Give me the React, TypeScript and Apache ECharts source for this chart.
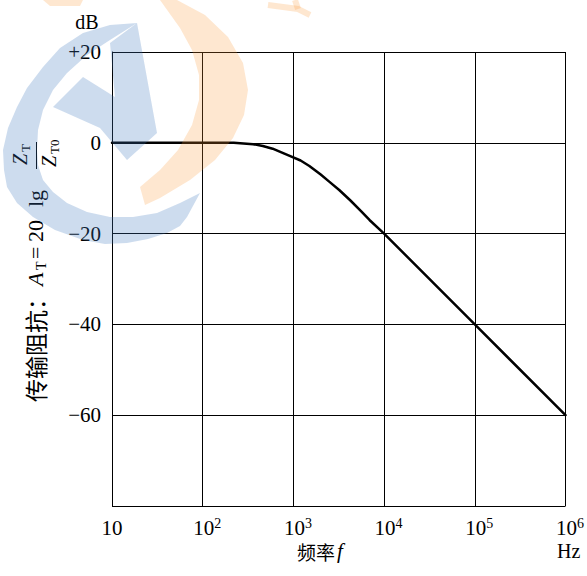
import React, { useEffect, useRef } from "react";
import * as echarts from "echarts";

const freqs = [10, 100, 220, 360, 460, 590, 910, 1200, 1500, 2000, 2500, 3200, 4200, 5600, 6900, 10000, 100000, 1000000];
const gainDb = [0, 0, 0, -0.3, -0.7, -1.3, -2.9, -3.9, -5.1, -7.0, -8.6, -10.4, -12.6, -15.1, -17, -20, -40, -60];
const yTicks = [20, 0, -20, -40, -60];
const yLabelText = ["+20", "0", "\u221220", "\u221240", "\u221260"];

const SERIF = '"Liberation Serif", "DejaVu Serif", serif';
const CJK = '"Noto Sans CJK SC", sans-serif';

function txt(text: string, x: number, y: number, font: string, align = "left", extra: any = {}) {
  return {
    type: "text",
    x,
    y,
    silent: true,
    style: { text, font, fill: "#000", textAlign: align, textVerticalAlign: "middle", align, verticalAlign: "middle", ...extra },
  };
}

const blueCrescent = [
  [137, 23], [110, 25], [83, 33], [60, 48], [43, 67], [27, 88], [17, 107], [8, 128], [3, 150], [4, 170], [7, 187],
  [17, 203], [33, 217], [55, 230], [83, 240], [105, 244], [127, 243], [148, 239], [167, 233], [180, 226], [187, 217], [200, 193],
  [180, 203], [157, 213], [133, 217], [110, 217], [87, 212], [67, 203], [53, 192], [43, 180], [38, 165], [37, 150],
  [38, 130], [43, 110], [53, 90], [67, 73], [87, 55], [110, 40],
];
const blueY = [[53, 107], [83, 77], [115, 97], [110, 43], [137, 23], [157, 133], [127, 160], [100, 128]];
const orangeArc = [
  [177, 0], [205, 15], [228, 37], [243, 63], [248, 90], [244, 115], [233, 138], [215, 160], [190, 180], [160, 198], [145, 205],
  [140, 187], [160, 170], [178, 150], [192, 125], [199, 100], [199, 75], [192, 50], [180, 28], [160, 0],
];

export default function App() {
  const ref = useRef<HTMLDivElement>(null);
  useEffect(() => {
    if (!ref.current) return;
    const chart = echarts.init(ref.current, undefined, { renderer: "svg" });
    const data = freqs.map((f, i) => [f, gainDb[i]]);
    const blue = "rgba(60,120,190,0.26)";
    const orange = "rgba(250,150,50,0.23)";
    chart.setOption({
      animation: false,
      backgroundColor: "#fff",
      grid: { left: 112, top: 52, width: 454, height: 454 },
      xAxis: {
        type: "log",
        logBase: 10,
        min: 10,
        max: 1000000,
        axisLine: { show: true, lineStyle: { color: "#000", width: 1 } },
        axisTick: { show: false },
        minorTick: { show: false },
        splitLine: { show: true, lineStyle: { color: "#000", width: 1 } },
        axisLabel: {
          margin: 10,
          color: "#000",
          formatter: (v: number) => {
            const e = Math.round(Math.log10(v));
            if (e === 1) return "{b|10}";
            return `{p|10}{s|${e}}`;
          },
          rich: {
            b: { fontFamily: SERIF, fontSize: 21, color: "#000", lineHeight: 24 },
            p: { fontFamily: SERIF, fontSize: 21, color: "#000", lineHeight: 24, padding: [0, 0, 0, 9] },
            s: { fontFamily: SERIF, fontSize: 14, color: "#000", lineHeight: 14, verticalAlign: "top" },
          },
        },
      },
      yAxis: {
        type: "value",
        min: -80,
        max: 20,
        interval: 20,
        axisLine: { show: true, lineStyle: { color: "#000", width: 1 } },
        axisTick: { show: false },
        splitLine: { show: true, lineStyle: { color: "#000", width: 1 } },
        axisLabel: {
          margin: 11,
          color: "#000",
          fontFamily: SERIF,
          fontSize: 21,
          formatter: (v: number) => {
            const i = yTicks.indexOf(v);
            return i >= 0 ? yLabelText[i] : "";
          },
        },
      },
      series: [
        {
          type: "line",
          data,
          showSymbol: false,
          smooth: false,
          lineStyle: { color: "#000", width: 2.5, join: "round", cap: "round" },
          z: 5,
        },
      ],
      graphic: [
        txt("dB", 87, 22, `20px ${SERIF}`, "center"),
        txt("频率", 297, 551, `19px ${CJK}`),
        txt("f", 337, 551, `italic 21px ${SERIF}`),
        txt("Hz", 557, 551, `20px ${SERIF}`),
        {
          type: "group",
          x: 35,
          y: 402,
          rotation: Math.PI / 2,
          silent: true,
          children: [
            txt("传输阻抗：", 0, 0, `23px ${CJK}`),
            txt("A", 116, 0, `italic 22px ${SERIF}`),
            txt("T", 132, 6, `14px ${SERIF}`),
            txt("=", 143, 0, `22px ${SERIF}`),
            txt("20", 160, 0, `22px ${SERIF}`),
            txt("lg", 195, 0, `22px ${SERIF}`),
            txt("Z", 237, -15, `italic 20px ${SERIF}`),
            txt("T", 250, -10, `13px ${SERIF}`),
            { type: "line", shape: { x1: 233, y1: 1.5, x2: 260, y2: 1.5 }, style: { stroke: "#000", lineWidth: 1 } },
            txt("Z", 235, 14, `italic 20px ${SERIF}`),
            txt("T0", 248, 19, `13px ${SERIF}`),
          ],
        },
        { type: "polygon", z: 100, silent: true, shape: { points: blueCrescent }, style: { fill: blue } },
        { type: "polygon", z: 100, silent: true, shape: { points: blueY }, style: { fill: blue } },
        { type: "polygon", z: 100, silent: true, shape: { points: orangeArc }, style: { fill: orange } },
        { type: "polygon", z: 100, silent: true, shape: { points: [[43, 0], [83, 0], [80, 6], [50, 6]] }, style: { fill: orange } },
        { type: "polyline", z: 100, silent: true, shape: { points: [[268, 5], [298, 9], [310, 15]] }, style: { stroke: orange, lineWidth: 6, fill: "none" } },
        { type: "line", z: 100, silent: true, shape: { x1: 298, y1: 9, x2: 295, y2: 0 }, style: { stroke: orange, lineWidth: 6 } },
      ],
    });
    return () => chart.dispose();
  }, []);
  return <div ref={ref} style={{ width: 587, height: 576, position: "absolute", left: 0, top: 0 }} />;
}
